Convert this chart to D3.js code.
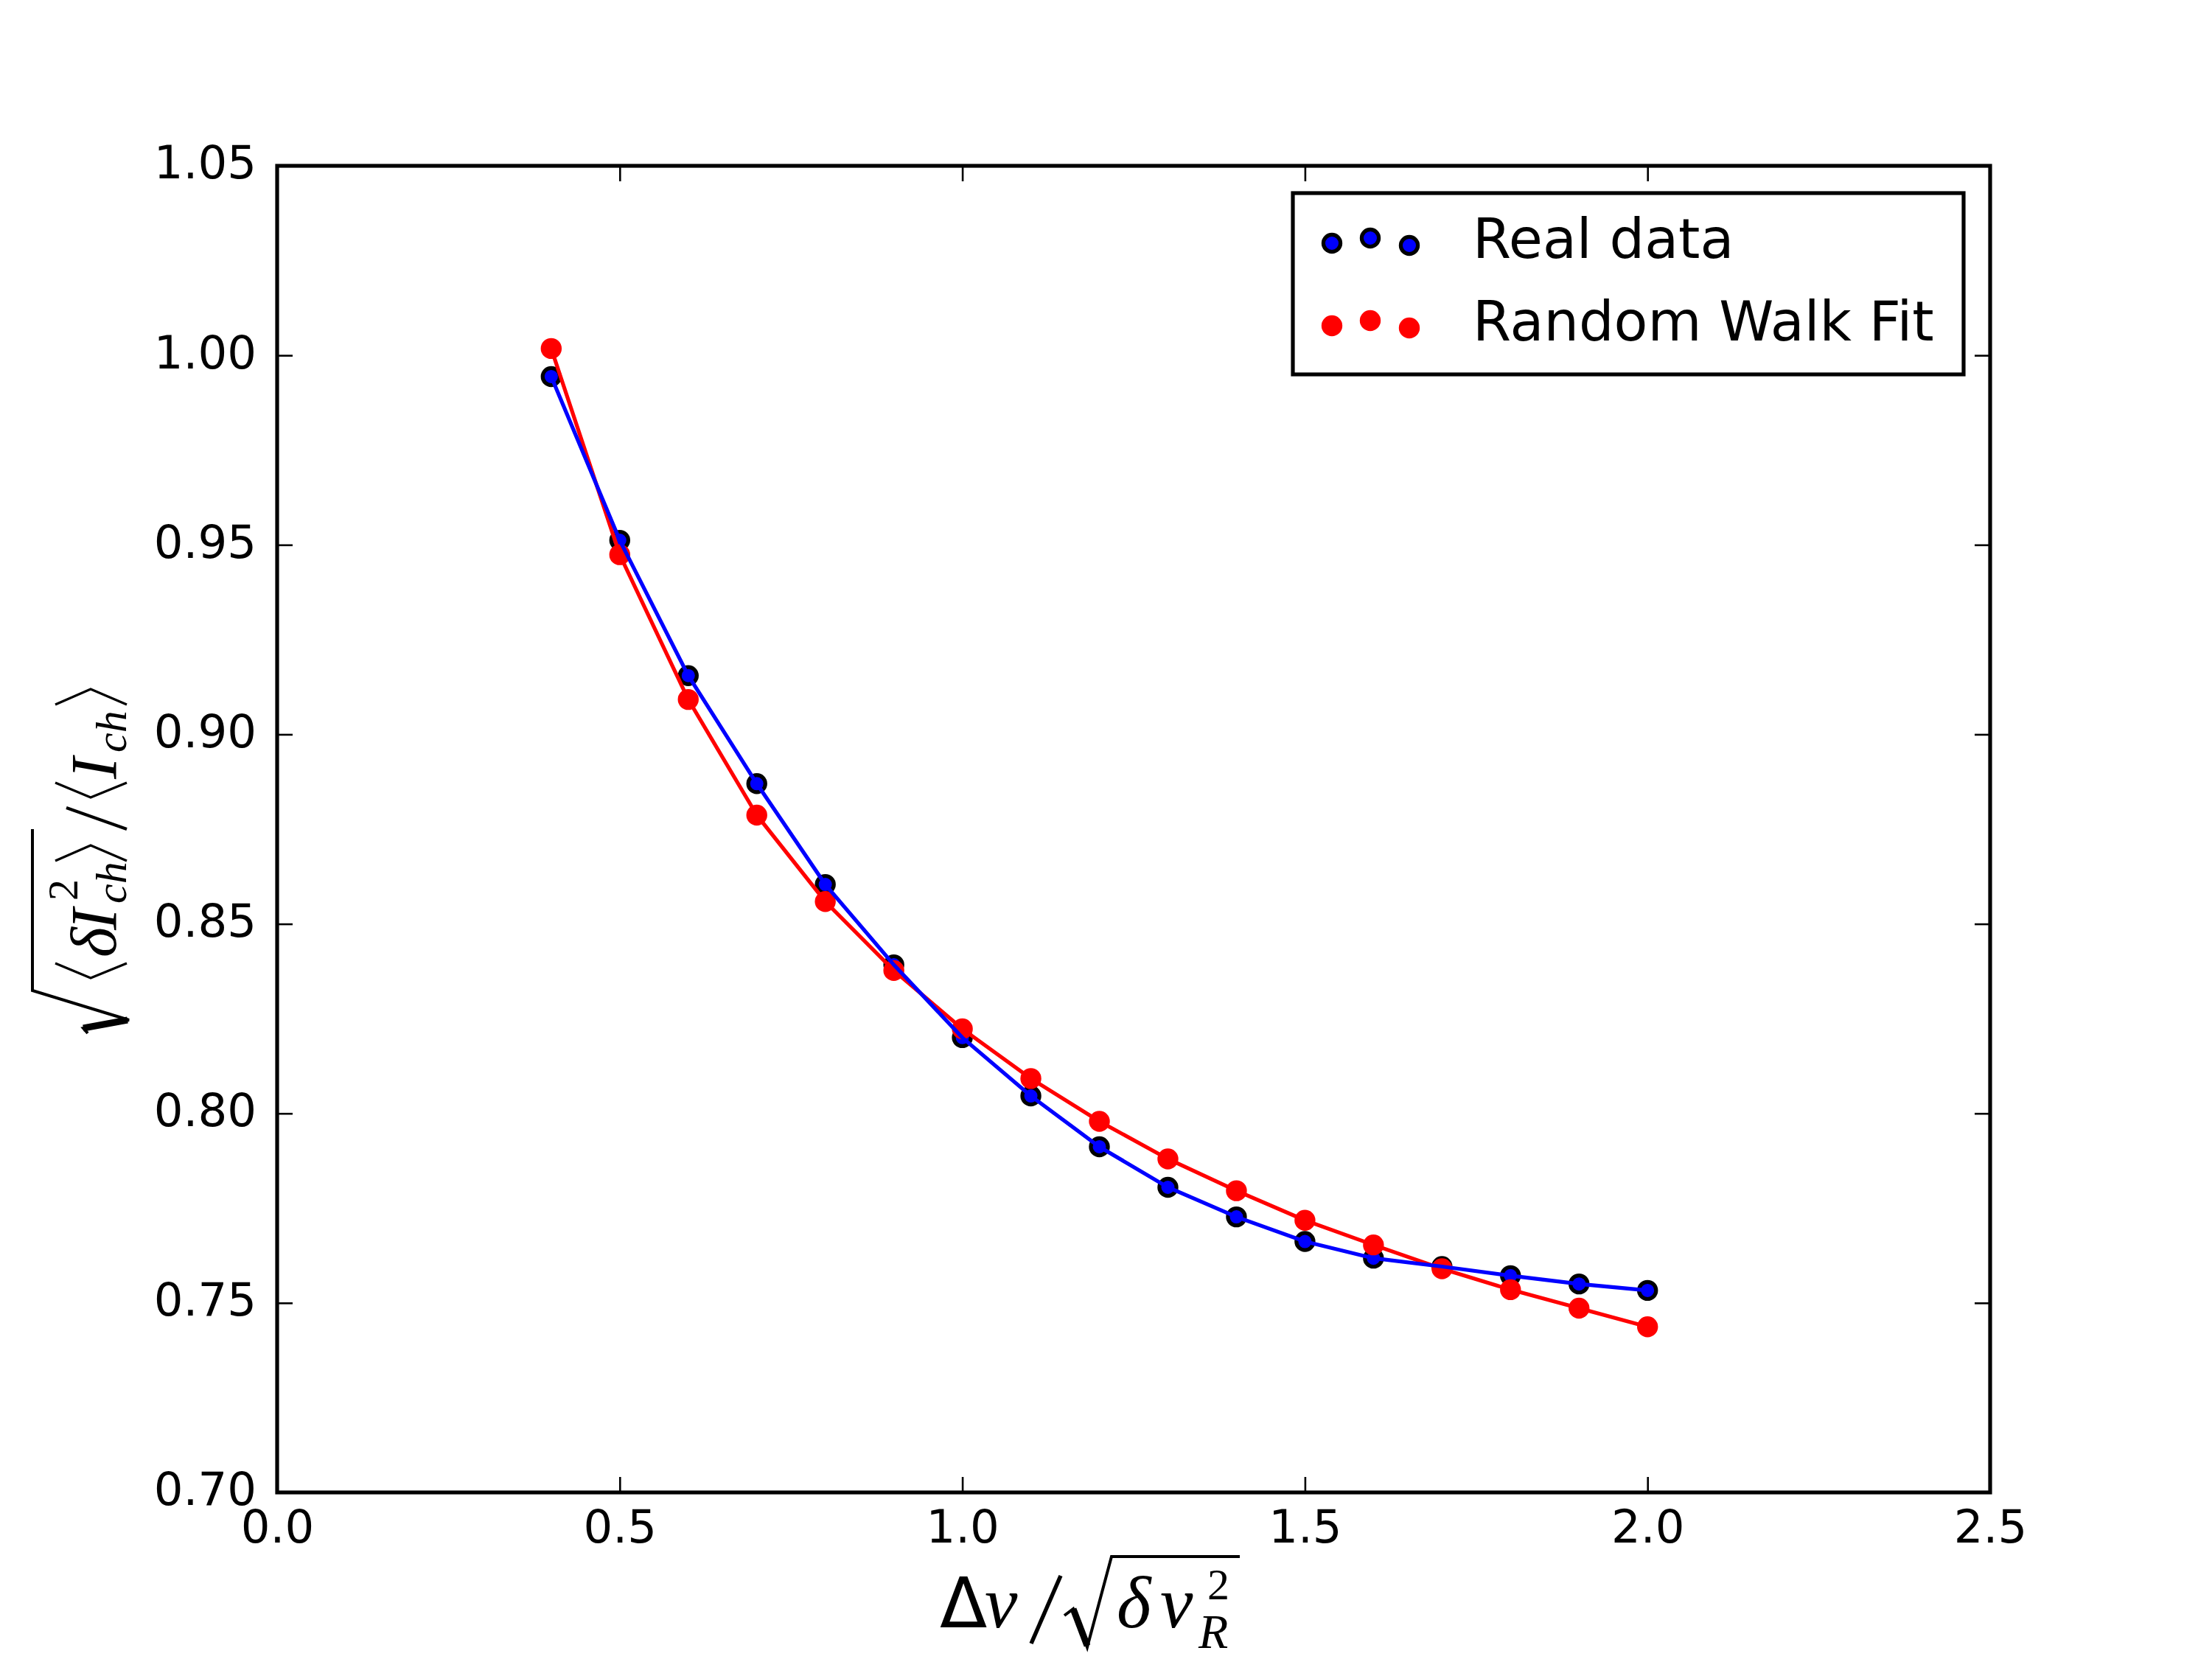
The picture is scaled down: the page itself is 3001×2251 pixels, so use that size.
<!DOCTYPE html>
<html>
<head>
<meta charset="utf-8">
<script src="https://cdnjs.cloudflare.com/ajax/libs/d3/7.8.5/d3.min.js"></script>
<style>
  body { margin: 0; background: #fff; }
</style>
</head>
<body>
<div id="vis"></div>
<script>
var width = 3001;
var height = 2251;

// data
var dvRatio = [0.4, 0.5, 0.6, 0.7, 0.8, 0.9, 1.0, 1.1, 1.2, 1.3, 1.4, 1.5, 1.6, 1.7, 1.8, 1.9, 2.0];
var realData = [0.9944, 0.9512, 0.9155, 0.8870, 0.8604, 0.8392, 0.8200, 0.8046, 0.7912, 0.7805,
                0.7727, 0.7662, 0.7618, 0.7596, 0.7572, 0.7550, 0.7533];
var randomWalkFit = [1.0018, 0.9474, 0.9092, 0.8787, 0.8559, 0.8377, 0.8223, 0.8092, 0.7979, 0.7880,
                     0.7796, 0.7718, 0.7653, 0.7590, 0.7535, 0.7486, 0.7437];
var xTicks = [0.0, 0.5, 1.0, 1.5, 2.0, 2.5];
var yTicks = [0.70, 0.75, 0.80, 0.85, 0.90, 0.95, 1.00, 1.05];
var seriesNames = ["Real data", "Random Walk Fit"];

var plotLeft = 376, plotRight = 2700, plotTop = 225, plotBottom = 2025;

var canvas = d3.select("#vis")
  .append("svg")
  .attr("width", width)
  .attr("height", height)
  .style("background-color", "#ffffff");

const x = d3.scaleLinear().domain([0, 2.5]).range([plotLeft, plotRight]);
const y = d3.scaleLinear().domain([0.70, 1.05]).range([plotBottom, plotTop]);

const tickFont = "'DejaVu Sans', sans-serif";

function styleAxis(g) {
  g.select(".domain").remove();
  g.selectAll(".tick line").attr("stroke", "#000").attr("stroke-width", 2.6);
  g.selectAll(".tick text")
    .attr("fill", "#000")
    .style("font-family", tickFont)
    .style("font-size", "62.5px");
}

canvas.append("g")
  .attr("transform", `translate(0, ${plotBottom})`)
  .call(d3.axisBottom(x).tickValues(xTicks).tickFormat(d3.format(".1f")).tickSize(-21).tickPadding(24))
  .call(styleAxis);

canvas.append("g")
  .attr("transform", `translate(0, ${plotTop})`)
  .call(d3.axisTop(x).tickValues(xTicks).tickFormat("").tickSize(-21))
  .call(styleAxis);

canvas.append("g")
  .attr("transform", `translate(${plotLeft}, 0)`)
  .call(d3.axisLeft(y).tickValues(yTicks).tickFormat(d3.format(".2f")).tickSize(-21).tickPadding(28))
  .call(styleAxis)
  .selectAll(".tick text").attr("dy", "0.27em");

canvas.append("g")
  .attr("transform", `translate(${plotRight}, 0)`)
  .call(d3.axisRight(y).tickValues(yTicks).tickFormat("").tickSize(-21))
  .call(styleAxis);

// scatter points first, then the joining lines on top
var blueData = dvRatio.map((d, i) => ({x: d, y: realData[i]}));
var redData = dvRatio.map((d, i) => ({x: d, y: randomWalkFit[i]}));

canvas.append("g").selectAll("circle")
  .data(blueData)
  .enter()
  .append("circle")
  .attr("cx", d => x(d.x))
  .attr("cy", d => y(d.y))
  .attr("r", 11.6)
  .attr("fill", "#0000ff")
  .attr("stroke", "#000")
  .attr("stroke-width", 5.2);

canvas.append("g").selectAll("circle")
  .data(redData)
  .enter()
  .append("circle")
  .attr("cx", d => x(d.x))
  .attr("cy", d => y(d.y))
  .attr("r", 11.6)
  .attr("fill", "#ff0000")
  .attr("stroke", "#ff0000")
  .attr("stroke-width", 5.2);

var line = d3.line().x(d => x(d.x)).y(d => y(d.y));

canvas.append("path")
  .datum(redData)
  .attr("d", line)
  .attr("fill", "none")
  .attr("stroke", "#ff0000")
  .attr("stroke-width", 5.2);

canvas.append("path")
  .datum(blueData)
  .attr("d", line)
  .attr("fill", "none")
  .attr("stroke", "#0000ff")
  .attr("stroke-width", 5.2);

// frame
canvas.append("rect")
  .attr("x", plotLeft)
  .attr("y", plotTop)
  .attr("width", plotRight - plotLeft)
  .attr("height", plotBottom - plotTop)
  .attr("fill", "none")
  .attr("stroke", "#000")
  .attr("stroke-width", 5.2);

// legend
var legend = canvas.append("g").attr("class", "legend");

legend.append("rect")
  .attr("x", 1754)
  .attr("y", 262)
  .attr("width", 910)
  .attr("height", 246)
  .attr("fill", "#fff")
  .attr("stroke", "#000")
  .attr("stroke-width", 5.2);

var legendDots = [{dx: 1807, dy: 7}, {dx: 1859, dy: 0}, {dx: 1912, dy: 10}];
var legendRows = [
  {name: seriesNames[0], fill: "#0000ff", stroke: "#000", top: 323, base: 350},
  {name: seriesNames[1], fill: "#ff0000", stroke: "#ff0000", top: 435, base: 462}
];

legendRows.forEach(function (row) {
  legend.selectAll(null)
    .data(legendDots)
    .enter()
    .append("circle")
    .attr("cx", d => d.dx)
    .attr("cy", d => row.top + d.dy)
    .attr("r", 11.6)
    .attr("fill", row.fill)
    .attr("stroke", row.stroke)
    .attr("stroke-width", 5.2);
  legend.append("text")
    .attr("x", 1998)
    .attr("y", row.base)
    .style("font-family", tickFont)
    .style("font-size", "75px")
    .attr("fill", "#000")
    .text(row.name);
});

// x label:  Δv / sqrt(δ v_R^2)
var serif = "'Liberation Serif', 'DejaVu Serif', serif";
var xl = canvas.append("g").attr("class", "xlabel");

xl.append("text").attr("x", 1275).attr("y", 2208)
  .style("font-family", tickFont).style("font-size", "94px").text("Δ");
xl.append("text").attr("x", 1336).attr("y", 2208)
  .style("font-family", serif).style("font-style", "italic").style("font-size", "100px").text("v");
xl.append("path").attr("d", "M1399,2230 L1439,2138")
  .attr("stroke", "#000").attr("stroke-width", 5.5).attr("fill", "none");
xl.append("path").attr("d", "M1444,2192 L1456,2183 L1475,2235 L1508,2112 L1682,2112")
  .attr("stroke", "#000").attr("stroke-width", 4).attr("fill", "none").attr("stroke-linejoin", "miter");
xl.append("path").attr("d", "M1456,2183 L1475,2233")
  .attr("stroke", "#000").attr("stroke-width", 9).attr("fill", "none");
xl.append("text").attr("x", 1515).attr("y", 2208)
  .style("font-family", serif).style("font-style", "italic").style("font-size", "100px").text("δ");
xl.append("text").attr("x", 1574).attr("y", 2208)
  .style("font-family", serif).style("font-style", "italic").style("font-size", "100px").text("v");
xl.append("text").attr("x", 1638).attr("y", 2170)
  .style("font-family", serif).style("font-size", "60px").text("2");
xl.append("text").attr("x", 1626).attr("y", 2236)
  .style("font-family", serif).style("font-style", "italic").style("font-size", "66px").text("R");

// y label:  sqrt(<δI_ch^2>) / <I_ch>, rotated
var yl = canvas.append("g")
  .attr("class", "ylabel")
  .attr("transform", "translate(157, 1402) rotate(-90)");

function bracket(g, tip, arm) {
  g.append("path")
    .attr("d", `M${arm},-82 L${tip},-34 L${arm},15`)
    .attr("stroke", "#000").attr("stroke-width", 3.2).attr("fill", "none");
}

yl.append("path").attr("d", "M0,-38 L7,-44 L18,18 L58,-113 L277,-113")
  .attr("stroke", "#000").attr("stroke-width", 4).attr("fill", "none");
yl.append("path").attr("d", "M7,-44 L18,16")
  .attr("stroke", "#000").attr("stroke-width", 9).attr("fill", "none");
bracket(yl, 75, 95);
yl.append("text").attr("x", 103).attr("y", 0)
  .style("font-family", serif).style("font-style", "italic").style("font-size", "88px").text("δ");
yl.append("text").attr("x", 140).attr("y", 0)
  .style("font-family", serif).style("font-style", "italic").style("font-size", "88px").text("I");
yl.append("text").attr("x", 180).attr("y", -52)
  .style("font-family", serif).style("font-size", "58px").text("2");
yl.append("text").attr("x", 176).attr("y", 14)
  .style("font-family", serif).style("font-style", "italic").style("font-size", "60px").text("ch");
bracket(yl, 255, 234);
yl.append("path").attr("d", "M277,15 L306,-67")
  .attr("stroke", "#000").attr("stroke-width", 4).attr("fill", "none");
bracket(yl, 320, 340);
yl.append("text").attr("x", 345).attr("y", 0)
  .style("font-family", serif).style("font-style", "italic").style("font-size", "88px").text("I");
yl.append("text").attr("x", 381).attr("y", 14)
  .style("font-family", serif).style("font-style", "italic").style("font-size", "60px").text("ch");
bracket(yl, 467, 446);
</script>
</body>
</html>
